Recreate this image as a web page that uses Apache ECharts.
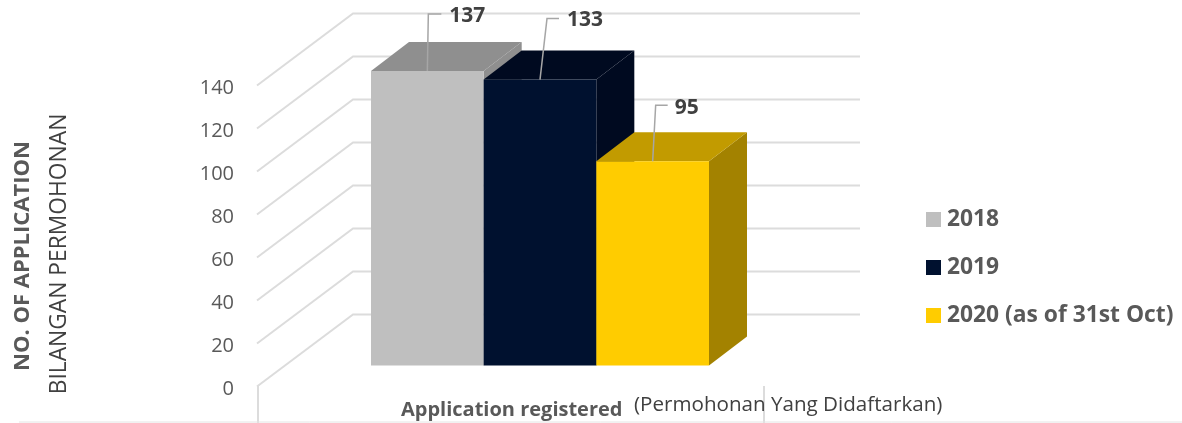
<!DOCTYPE html>
<html>
<head>
<meta charset="utf-8">
<style>
  html, body { margin: 0; padding: 0; background: #fff; }
  #chart { width: 1182px; height: 423px; }
</style>
<script src="https://cdn.jsdelivr.net/npm/echarts@6/dist/echarts.min.js"></script>
</head>
<body>
<div id="chart"></div>
<script>
const categories = ["Application registered"];
const seriesNames = ["2018", "2019", "2020 (as of 31st Oct)"];
const seriesValues = [137, 133, 95];
const yTicks = [0, 20, 40, 60, 80, 100, 120, 140];

const FONT = '"Open Sans", sans-serif';
const WALL = [96, -72];        // front plane of the box to its back wall
const BAR_SHIFT = [29.5, -21]; // front plane to the front face of the bars
const BAR_DEPTH = [38, -29];
const FACES = [
  { front: "#bfbfbf", top: "#8f8f8f", side: "#8f8f8f" },
  { front: "#00112f", top: "#000a20", side: "#000a20" },
  { front: "#ffcc00", top: "#c29b00", side: "#a38200" }
];
const LEADERS = [
  { bend: [1, -57], end: [14, -57], label: [22, -55] },
  { bend: [7, -61], end: [19, -61], label: [27, -60] },
  { bend: [3, -56], end: [15, -56], label: [22, -53] }
];

const chart = echarts.init(document.getElementById("chart"));

function renderWall(params, api) {
  const value = api.value(1);
  const band = api.size([1, 0])[0];
  const [cx, y] = api.coord([0, value]);
  const left = cx - band / 2;
  return {
    type: "polyline",
    shape: {
      points: [
        [left, y],
        [left + WALL[0], y + WALL[1]],
        [left + band + WALL[0], y + WALL[1]]
      ]
    },
    style: { stroke: "#dcdcdc", lineWidth: 2, fill: null }
  };
}

function renderBar(index) {
  return (params, api) => {
    const band = api.size([1, 0])[0];
    const width = band * 2 / 9;
    const [cx, top] = api.coord([0, api.value(1)]);
    const [, base] = api.coord([0, 0]);
    const x0 = cx - width * 1.5 + width * index + BAR_SHIFT[0];
    const x1 = x0 + width;
    const y0 = top + BAR_SHIFT[1];
    const y1 = base + BAR_SHIFT[1];
    const [dx, dy] = BAR_DEPTH;
    const face = FACES[index];
    const leader = LEADERS[index];
    const mx = (x0 + x1) / 2;
    return {
      type: "group",
      children: [
        {
          type: "polygon",
          shape: { points: [[x1, y0], [x1 + dx, y0 + dy], [x1 + dx, y1 + dy], [x1, y1]] },
          style: { fill: face.side }
        },
        {
          type: "polygon",
          shape: { points: [[x0, y0], [x0 + dx, y0 + dy], [x1 + dx, y0 + dy], [x1, y0]] },
          style: { fill: face.top }
        },
        {
          type: "rect",
          shape: { x: x0, y: y0, width: width, height: y1 - y0 },
          style: { fill: face.front }
        },
        {
          type: "polyline",
          shape: {
            points: [
              [mx, y0],
              [mx + leader.bend[0], y0 + leader.bend[1]],
              [mx + leader.end[0], y0 + leader.end[1]]
            ]
          },
          style: { stroke: "#a6a6a6", lineWidth: 1.5, fill: null }
        },
        {
          type: "text",
          style: {
            text: String(api.value(1)),
            x: mx + leader.label[0],
            y: y0 + leader.label[1],
            fill: "#404040",
            font: `bold 21px ${FONT}`,
            textAlign: "left",
            textVerticalAlign: "middle"
          }
        }
      ]
    };
  };
}

chart.setOption({
  animation: false,
  backgroundColor: "#fff",
  grid: { left: 257, top: 85.5, width: 507, height: 301 },
  xAxis: {
    type: "category",
    data: categories,
    axisLabel: { show: false },
    axisLine: { show: false },
    axisTick: { show: false },
    splitLine: { show: false }
  },
  yAxis: {
    type: "value",
    min: 0,
    max: 140,
    interval: 20,
    axisLine: { show: false },
    axisTick: { show: false },
    splitLine: { show: false },
    axisLabel: {
      color: "#595959",
      fontSize: 20,
      fontFamily: FONT,
      margin: 23,
      verticalAlign: "top",
      lineHeight: 6
    }
  },
  legend: {
    left: 926,
    top: 204,
    padding: 0,
    orient: "vertical",
    icon: "rect",
    itemWidth: 15,
    itemHeight: 15,
    itemGap: 17,
    data: seriesNames,
    selectedMode: false,
    textStyle: {
      color: "#595959",
      fontSize: 22.8,
      fontWeight: "bold",
      fontFamily: FONT,
      lineHeight: 29,
      padding: [2, 0, 0, 1]
    }
  },
  series: [
    {
      type: "custom",
      name: "wall",
      silent: true,
      clip: false,
      renderItem: renderWall,
      data: yTicks.map((tick) => [0, tick])
    },
    ...seriesNames.map((name, index) => ({
      type: "custom",
      name,
      clip: false,
      itemStyle: { color: FACES[index].front },
      renderItem: renderBar(index),
      data: [[0, seriesValues[index]]]
    }))
  ],
  graphic: [
    {
      type: "polyline",
      silent: true,
      shape: { points: [[258, 386], [258, 423]] },
      style: { stroke: "#dcdcdc", lineWidth: 2, fill: null }
    },
    {
      type: "polyline",
      silent: true,
      shape: { points: [[764, 386], [764, 423]] },
      style: { stroke: "#dcdcdc", lineWidth: 2, fill: null }
    },
    {
      type: "polyline",
      silent: true,
      shape: { points: [[19, 422], [1182, 422]] },
      style: { stroke: "#e4e4e4", lineWidth: 1, fill: null }
    },
    {
      type: "text",
      x: 23,
      y: 256,
      rotation: Math.PI / 2,
      style: {
        text: "NO. OF APPLICATION",
        fill: "#595959",
        font: `bold 22px ${FONT}`,
        textAlign: "center",
        textVerticalAlign: "middle"
      }
    },
    {
      type: "text",
      x: 60,
      y: 254,
      rotation: Math.PI / 2,
      style: {
        text: "BILANGAN PERMOHONAN",
        fill: "#404040",
        font: `22.8px ${FONT}`,
        textAlign: "center",
        textVerticalAlign: "middle"
      }
    },
    {
      type: "text",
      x: 401,
      y: 410,
      style: {
        text: "Application registered",
        fill: "#595959",
        font: `bold 20px ${FONT}`,
        textAlign: "left",
        textVerticalAlign: "middle"
      }
    },
    {
      type: "text",
      x: 634,
      y: 405,
      style: {
        text: "(Permohonan Yang Didaftarkan)",
        fill: "#404040",
        font: `20.6px ${FONT}`,
        textAlign: "left",
        textVerticalAlign: "middle"
      }
    }
  ]
});
</script>
</body>
</html>
